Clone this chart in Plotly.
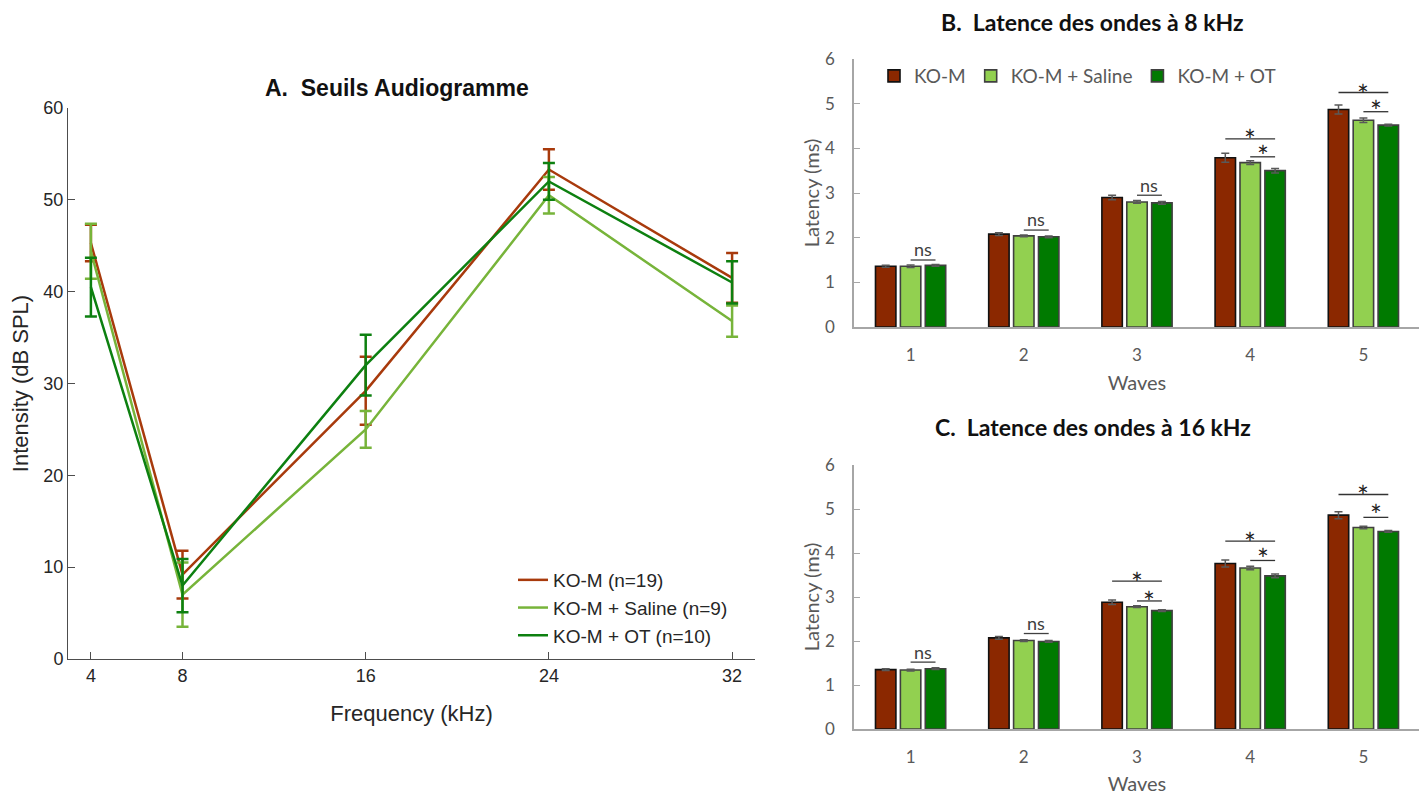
import plotly.graph_objects as go

# ---------- Panel A data ----------
freq = [4, 8, 16, 24, 32]
ko_m = [45.3, 9.2, 29.2, 53.3, 41.5]
ko_m_err = [2.0, 2.6, 3.7, 2.2, 2.7]
saline = [44.4, 7.0, 25.0, 50.5, 36.8]
saline_err = [3.0, 3.5, 2.0, 2.0, 1.7]
ot = [40.5, 8.0, 32.0, 52.0, 41.0]
ot_err = [3.2, 2.9, 3.3, 2.0, 2.3]
freq_ticks = [4, 8, 16, 24, 32]

# ---------- Panel B data (8 kHz) ----------
waves = [1, 2, 3, 4, 5]
b_kom = [1.36, 2.08, 2.90, 3.79, 4.87]
b_kom_err = [0.02, 0.03, 0.05, 0.10, 0.10]
b_sal = [1.36, 2.04, 2.80, 3.68, 4.63]
b_sal_err = [0.03, 0.02, 0.03, 0.04, 0.05]
b_ot = [1.38, 2.02, 2.78, 3.50, 4.52]
b_ot_err = [0.02, 0.02, 0.03, 0.05, 0.02]

# ---------- Panel C data (16 kHz) ----------
c_kom = [1.35, 2.07, 2.88, 3.76, 4.86]
c_kom_err = [0.02, 0.03, 0.05, 0.08, 0.08]
c_sal = [1.34, 2.01, 2.78, 3.66, 4.58]
c_sal_err = [0.02, 0.02, 0.02, 0.04, 0.03]
c_ot = [1.37, 1.99, 2.69, 3.48, 4.49]
c_ot_err = [0.02, 0.02, 0.02, 0.04, 0.02]

# significance marks: (wave, label, from_group, to_group, line_y, text_y)
b_sig = [(1, "ns", 1, 2, 1.50, 1.74), (2, "ns", 1, 2, 2.17, 2.41), (3, "ns", 1, 2, 2.95, 3.19),
         (4, "*", 0, 2, 4.21, 4.37), (4, "*", 1, 2, 3.81, 4.00),
         (5, "*", 0, 2, 5.25, 5.38), (5, "*", 1, 2, 4.82, 5.02)]
c_sig = [(1, "ns", 1, 2, 1.52, 1.76), (2, "ns", 1, 2, 2.17, 2.41),
         (3, "*", 0, 2, 3.36, 3.50), (3, "*", 1, 2, 2.91, 3.07),
         (4, "*", 0, 2, 4.27, 4.42), (4, "*", 1, 2, 3.83, 4.04),
         (5, "*", 0, 2, 5.33, 5.47), (5, "*", 1, 2, 4.81, 5.04)]

RED = "#8B2800"
LGREEN = "#92D050"
DGREEN = "#007A00"
LINE_RED = "#A83A0C"
LINE_LG = "#77B43A"
LINE_DG = "#0D8010"

W, H = 1427, 796
OFF = 8  # page body margin


def xp(px):
    return (px - OFF) / W


def yp(py):
    return 1 - (py - OFF) / H


fig = go.Figure()

# Panel A
for name, y, e, col in [("KO-M (n=19)", ko_m, ko_m_err, LINE_RED),
                        ("KO-M + Saline (n=9)", saline, saline_err, LINE_LG),
                        ("KO-M + OT (n=10)", ot, ot_err, LINE_DG)]:
    fig.add_trace(go.Scatter(x=freq, y=y, mode="lines", name=name,
                             line=dict(color=col, width=2.5),
                             error_y=dict(type="data", array=e, color=col, thickness=2.5, width=6),
                             xaxis="x", yaxis="y", legend="legend"))


# Panel B and C bars
def add_bars(vals_list, xa, ya, showleg):
    for name, vals, errs, col, outl in vals_list:
        fig.add_trace(go.Bar(x=waves, y=vals, name=name, marker=dict(color=col, line=dict(color=outl, width=1.6)),
                             error_y=dict(type="data", array=errs, color="#595959", thickness=1.5, width=4),
                             xaxis=xa, yaxis=ya, showlegend=showleg, legend="legend2"))


add_bars([("KO-M", b_kom, b_kom_err, RED, "#111111"),
          ("KO-M + Saline", b_sal, b_sal_err, LGREEN, "#404040"),
          ("KO-M + OT", b_ot, b_ot_err, DGREEN, "#404040")], "x2", "y2", True)
add_bars([("KO-M", c_kom, c_kom_err, RED, "#111111"),
          ("KO-M + Saline", c_sal, c_sal_err, LGREEN, "#404040"),
          ("KO-M + OT", c_ot, c_ot_err, DGREEN, "#404040")], "x3", "y3", False)

OFFS = [-0.22, 0.0, 0.22]
shapes = []
annots = []
for sig, xr, yr in [(b_sig, "x2", "y2"), (c_sig, "x3", "y3")]:
    for w, lab, g0, g1, ly, ty in sig:
        isns = lab == "ns"
        shapes.append(dict(type="line", xref=xr, yref=yr, x0=w + OFFS[g0], x1=w + OFFS[g1], y0=ly, y1=ly,
                           line=dict(color="#404040" if isns else "#333333", width=1.3)))
        annots.append(dict(x=(w + OFFS[g0] + w + OFFS[g1]) / 2, y=ty, xref=xr, yref=yr, text=lab, showarrow=False,
                           xanchor="center", yanchor="middle", yshift=0 if isns else -8,
                           font=dict(family="Lato", size=18 if isns else 28,
                                     color="#404040" if isns else "#222222")))

annots += [
    dict(x=xp(397), y=yp(88), xref="paper", yref="paper", text="<b>A.  Seuils Audiogramme</b>",
         xanchor="center", yanchor="middle",
         showarrow=False, font=dict(family="Liberation Sans", size=23, color="#111111")),
    dict(x=xp(1092), y=yp(22), xref="paper", yref="paper", text="<b>B.  Latence des ondes à 8 kHz</b>",
         xanchor="center", yanchor="middle",
         showarrow=False, font=dict(family="Lato", size=23, color="#111111")),
    dict(x=xp(1093), y=yp(427), xref="paper", yref="paper", text="<b>C.  Latence des ondes à 16 kHz</b>",
         xanchor="center", yanchor="middle",
         showarrow=False, font=dict(family="Lato", size=23, color="#111111")),
]

axA = dict(showline=True, linecolor="#4d4d4d", linewidth=1, ticks="inside", ticklen=7, tickcolor="#4d4d4d",
           showgrid=False, zeroline=False, automargin=False,
           tickfont=dict(family="Liberation Sans", size=18, color="#262626"))
axR = dict(showline=True, linecolor="#a6a6a6", linewidth=1.5, showgrid=False, zeroline=False, automargin=False,
           tickfont=dict(family="Lato", size=17, color="#595959"))

fig.update_layout(
    width=W, height=H, margin=dict(l=0, r=0, t=0, b=0),
    paper_bgcolor="white", plot_bgcolor="white",
    barmode="group", bargap=0.34, bargroupgap=0.18,
    xaxis=dict(axA, domain=[xp(68), xp(755)], range=[3, 33], tickvals=freq_ticks, anchor="y",
               title=dict(text="Frequency (kHz)", font=dict(family="Liberation Sans", size=22, color="#262626"),
                          standoff=21)),
    yaxis=dict(axA, domain=[yp(659), yp(108)], range=[0, 60], tickvals=[0, 10, 20, 30, 40, 50, 60],
               anchor="x",
               title=dict(text="Intensity (dB SPL)", font=dict(family="Liberation Sans", size=22, color="#262626"),
                          standoff=10)),
    xaxis2=dict(axR, domain=[xp(854), xp(1420)], range=[0.5, 5.5], tickvals=waves, anchor="y2", ticks="",
                ticklabelstandoff=12,
                title=dict(text="Waves", font=dict(family="Lato", size=20, color="#595959"), standoff=12)),
    yaxis2=dict(axR, domain=[yp(327), yp(59)], range=[0, 6], tickvals=[0, 1, 2, 3, 4, 5, 6],
                anchor="x2", ticks="inside", ticklen=6, tickcolor="#a6a6a6", ticklabelstandoff=14,
                title=dict(text="Latency (ms)", font=dict(family="Lato", size=20, color="#595959"), standoff=0)),
    xaxis3=dict(axR, domain=[xp(854), xp(1420)], range=[0.5, 5.5], tickvals=waves, anchor="y3", ticks="",
                ticklabelstandoff=12,
                title=dict(text="Waves", font=dict(family="Lato", size=20, color="#595959"), standoff=11)),
    yaxis3=dict(axR, domain=[yp(729), yp(465)], range=[0, 6], tickvals=[0, 1, 2, 3, 4, 5, 6],
                anchor="x3", ticks="inside", ticklen=6, tickcolor="#a6a6a6", ticklabelstandoff=14,
                title=dict(text="Latency (ms)", font=dict(family="Lato", size=20, color="#595959"), standoff=0)),
    legend=dict(x=xp(513), y=yp(561), xanchor="left", yanchor="top", bgcolor="rgba(0,0,0,0)",
                font=dict(family="Liberation Sans", size=19, color="#262626"), itemwidth=30, tracegroupgap=0),
    legend2=dict(x=xp(874), y=yp(76), xanchor="left", yanchor="middle", orientation="h",
                 bgcolor="rgba(0,0,0,0)", font=dict(family="Lato", size=19, color="#595959")),
    shapes=shapes, annotations=annots,
)

fig.write_html("out.html")
